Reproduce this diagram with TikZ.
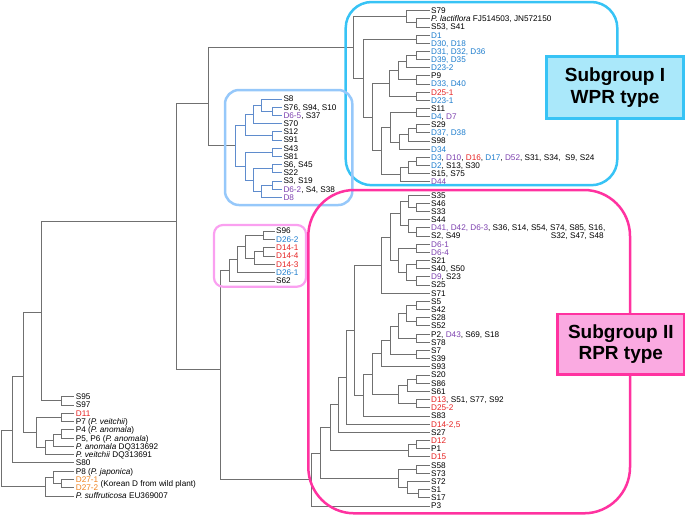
\documentclass[tikz,border=0pt]{standalone}
\usepackage{fontspec}
\setmainfont{Liberation Sans}
\definecolor{edgegray}{RGB}{112,112,112}
\definecolor{edgeblue}{RGB}{95,140,205}
\definecolor{dblue}{RGB}{30,125,205}
\definecolor{dred}{RGB}{230,35,35}
\definecolor{dpurple}{RGB}{125,65,175}
\definecolor{dorange}{RGB}{240,130,30}
\definecolor{cyanline}{RGB}{55,195,245}
\definecolor{cyanfill}{RGB}{170,232,250}
\definecolor{lblue}{RGB}{150,200,250}
\definecolor{pinkline}{RGB}{255,50,160}
\definecolor{pinkfill}{RGB}{250,170,225}
\definecolor{lpink}{RGB}{250,160,240}
\newcommand\colB[1]{\textcolor{dblue}{#1}}
\newcommand\colR[1]{\textcolor{dred}{#1}}
\newcommand\colP[1]{\textcolor{dpurple}{#1}}
\newcommand\colO[1]{\textcolor{dorange}{#1}}
\begin{document}
\begin{tikzpicture}[x=1pt,y=-1pt,
  leaf/.style={anchor=west, inner sep=1.5pt, text height=5.9pt, text depth=0pt, font=\fontsize{8.2}{9}\selectfont},
  edge/.style={draw=edgegray, line width=0.85pt},
  bedge/.style={draw=edgeblue, line width=0.85pt},
  groupbox/.style={line width=2.5pt, rounded corners=#1},
  labelbox/.style={line width=2.6pt, font=\fontsize{19}{21.5}\selectfont\bfseries, align=center}]
\useasboundingbox (0,0) rectangle (685,515);

% ---------- WPR leaves ----------
\node[leaf] (wS79) at (429.5,10.7) {S79};
\node[leaf] (wPl) at (429.5,18.8) {\textit{P. lactiflora} FJ514503, JN572150};
\node[leaf] (wS53) at (429.5,27.0) {S53, S41};
\node[leaf] (wD1) at (429.5,35.1) {\colB{D1}};
\node[leaf] (wD30) at (429.5,43.3) {\colB{D30, D18}};
\node[leaf] (wD31) at (429.5,51.4) {\colB{D31, D32, D36}};
\node[leaf] (wD39) at (429.5,59.6) {\colB{D39, D35}};
\node[leaf] (wD232) at (429.5,67.7) {\colB{D23-2}};
\node[leaf] (wP9) at (429.5,75.8) {P9};
\node[leaf] (wD33) at (429.5,84.0) {\colB{D33, D40}};
\node[leaf] (wD251) at (429.5,92.1) {\colR{D25-1}};
\node[leaf] (wD231) at (429.5,100.3) {\colB{D23-1}};
\node[leaf] (wS11) at (429.5,108.4) {S11};
\node[leaf] (wD4) at (429.5,116.6) {\colB{D4}, \colP{D7}};
\node[leaf] (wS29) at (429.5,124.7) {S29};
\node[leaf] (wD37) at (429.5,132.8) {\colB{D37, D38}};
\node[leaf] (wS98) at (429.5,141.0) {S98};
\node[leaf] (wD34) at (429.5,149.1) {\colB{D34}};
\node[leaf] (wD3) at (429.5,157.3) {\colB{D3}, \colP{D10}, \colR{D16}, \colB{D17}, \colP{D52}, S31, S34, \ S9, S24};
\node[leaf] (wD2) at (429.5,165.4) {\colB{D2}, S13, S30};
\node[leaf] (wS15) at (429.5,173.6) {S15, S75};
\node[leaf] (wD44) at (429.5,181.7) {\colP{D44}};

% ---------- blue cluster leaves ----------
\node[leaf] (bS8) at (281.8,99.0) {S8};
\node[leaf] (bS76) at (281.8,107.2) {S76, S94, S10};
\node[leaf] (bD65) at (281.8,115.4) {\colP{D6-5}, S37};
\node[leaf] (bS70) at (281.8,123.6) {S70};
\node[leaf] (bS12) at (281.8,131.8) {S12};
\node[leaf] (bS91) at (281.8,140.0) {S91};
\node[leaf] (bS43) at (281.8,148.2) {S43};
\node[leaf] (bS81) at (281.8,156.4) {S81};
\node[leaf] (bS6) at (281.8,164.6) {S6, S45};
\node[leaf] (bS22) at (281.8,172.8) {S22};
\node[leaf] (bS3) at (281.8,181.0) {S3, S19};
\node[leaf] (bD62) at (281.8,189.2) {\colP{D6-2}, S4, S38};
\node[leaf] (bD8) at (281.8,197.4) {\colP{D8}};

% ---------- small pink cluster leaves ----------
\node[leaf] (kS96) at (274.5,231.0) {S96};
\node[leaf] (kD262) at (274.5,239.3) {\colB{D26-2}};
\node[leaf] (kD141) at (274.5,247.7) {\colR{D14-1}};
\node[leaf] (kD144) at (274.5,256.0) {\colR{D14-4}};
\node[leaf] (kD143) at (274.5,264.3) {\colR{D14-3}};
\node[leaf] (kD261) at (274.5,272.7) {\colB{D26-1}};
\node[leaf] (kS62) at (274.5,281.0) {S62};

% ---------- RPR leaves ----------
\node[leaf] (rS35) at (429.5,195.6) {S35};
\node[leaf] (rS46) at (429.5,203.6) {S46};
\node[leaf] (rS33) at (429.5,211.7) {S33};
\node[leaf] (rS44) at (429.5,219.8) {S44};
\node[leaf] (rD41) at (429.5,227.9) {\colP{D41, D42, D6-3}, S36, S14, S54, S74, S85, S16,};
\node[leaf] (rS2) at (429.5,236.0) {S2, S49};
\node[leaf, anchor=east] (rcont) at (605.5,236.0) {S32, S47, S48};
\node[leaf] (rD61) at (429.5,244.1) {\colP{D6-1}};
\node[leaf] (rD64) at (429.5,252.3) {\colP{D6-4}};
\node[leaf] (rS21) at (429.5,260.5) {S21};
\node[leaf] (rS40) at (429.5,268.7) {S40, S50};
\node[leaf] (rD9) at (429.5,276.8) {\colP{D9}, S23};
\node[leaf] (rS25) at (429.5,285.0) {S25};
\node[leaf] (rS71) at (429.5,293.2) {S71};
\node[leaf] (rS5) at (429.5,301.4) {S5};
\node[leaf] (rS42) at (429.5,309.6) {S42};
\node[leaf] (rS28) at (429.5,317.8) {S28};
\node[leaf] (rS52) at (429.5,325.9) {S52};
\node[leaf] (rP2) at (429.5,334.1) {P2, \colP{D43}, S69, S18};
\node[leaf] (rS78) at (429.5,342.3) {S78};
\node[leaf] (rS7) at (429.5,350.5) {S7};
\node[leaf] (rS39) at (429.5,358.7) {S39};
\node[leaf] (rS93) at (429.5,366.9) {S93};
\node[leaf] (rS20) at (429.5,375.0) {S20};
\node[leaf] (rS86) at (429.5,383.2) {S86};
\node[leaf] (rS61) at (429.5,391.4) {S61};
\node[leaf] (rD13) at (429.5,399.6) {\colR{D13}, S51, S77, S92};
\node[leaf] (rD252) at (429.5,407.8) {\colR{D25-2}};
\node[leaf] (rS83) at (429.5,416.0) {S83};
\node[leaf] (rD142) at (429.5,424.2) {\colR{D14-2,5}};
\node[leaf] (rS27) at (429.5,432.3) {S27};
\node[leaf] (rD12) at (429.5,440.5) {\colR{D12}};
\node[leaf] (rP1) at (429.5,448.7) {P1};
\node[leaf] (rD15) at (429.5,456.9) {\colR{D15}};
\node[leaf] (rS58) at (429.5,465.1) {S58};
\node[leaf] (rS73) at (429.5,473.3) {S73};
\node[leaf] (rS72) at (429.5,481.4) {S72};
\node[leaf] (rS1) at (429.5,489.6) {S1};
\node[leaf] (rS17) at (429.5,497.8) {S17};
\node[leaf] (rP3) at (429.5,506.0) {P3};

% ---------- outgroup leaves ----------
\node[leaf] (oS95) at (74.2,396.7) {S95};
\node[leaf] (oS97) at (74.2,405.0) {S97};
\node[leaf] (oD11) at (74.2,413.25) {\colR{D11}};
\node[leaf] (oP7) at (74.2,421.5) {P7 (\textit{P. veitchii})};
\node[leaf] (oP4) at (74.2,429.8) {P4 (\textit{P. anomala})};
\node[leaf] (oP5) at (74.2,438.1) {P5, P6 (\textit{P. anomala})};
\node[leaf] (oPa) at (74.2,446.35) {\textit{P. anomala} DQ313692};
\node[leaf] (oPv) at (74.2,454.6) {\textit{P. veitchii} DQ313691};
\node[leaf] (oS80) at (74.2,462.9) {S80};
\node[leaf] (oP8) at (74.2,471.2) {P8 (\textit{P. japonica})};
\node[leaf] (oD271) at (74.2,479.45) {\colO{D27-1}};
\node[leaf] (oD272) at (74.2,487.7) {\colO{D27-2}};
\node[leaf] (okor) at (99.0,483.6) {(Korean D from wild plant)};
\node[leaf] (oPs) at (74.2,496.0) {\textit{P. suffruticosa} EU369007};

% ---------- internal nodes ----------
\coordinate (w1) at (416,22.9);
\coordinate (w2) at (406.7,16.8);
\coordinate (w3) at (416,39.2);
\coordinate (w4) at (416,55.5);
\coordinate (w5) at (406.7,61.6);
\coordinate (w6) at (416,79.9);
\coordinate (w7) at (398.3,70.75);
\coordinate (w8) at (416,96.2);
\coordinate (w9) at (389.3,83.5);
\coordinate (w10) at (416,112.5);
\coordinate (w11) at (416,128.8);
\coordinate (w12) at (408.3,134.9);
\coordinate (w13) at (399.3,142.0);
\coordinate (w14) at (390,127.25);
\coordinate (w15) at (416.7,161.3);
\coordinate (w16) at (408.3,167.5);
\coordinate (w17) at (400,174.6);
\coordinate (w18) at (381.7,150.9);
\coordinate (w19) at (372.7,117.2);
\coordinate (w20) at (363.3,78.2);
\coordinate (wR) at (353.3,47.5);

\coordinate (b1) at (272,111.3);
\coordinate (b2) at (261.7,105.15);
\coordinate (b3) at (253.3,114.4);
\coordinate (b4) at (272,135.9);
\coordinate (b5) at (245,125.15);
\coordinate (b6) at (272,152.3);
\coordinate (b7) at (272,168.7);
\coordinate (b8) at (272,185.1);
\coordinate (b9) at (261.7,191.25);
\coordinate (b10) at (253.3,180.0);
\coordinate (b11) at (245,166.15);
\coordinate (bR) at (235,145.65);

\coordinate (k1) at (263.3,235.15);
\coordinate (k2) at (263.3,251.85);
\coordinate (k3) at (254.3,258.1);
\coordinate (k4) at (245.7,246.6);
\coordinate (k5) at (237.3,259.65);
\coordinate (kR) at (229.3,270.3);

\coordinate (r1) at (416.7,207.65);
\coordinate (r2) at (408.3,201.6);
\coordinate (r3) at (416.7,231.95);
\coordinate (r4) at (408.3,225.9);
\coordinate (r5) at (400,213.75);
\coordinate (r6) at (416.7,248.2);
\coordinate (r7) at (416.7,264.6);
\coordinate (r8) at (416.7,280.9);
\coordinate (r9) at (406.7,272.75);
\coordinate (r10) at (398.3,260.5);
\coordinate (r11) at (390,237.1);
\coordinate (r12) at (381,265.15);
\coordinate (r13) at (416.7,305.5);
\coordinate (r14) at (416.7,321.85);
\coordinate (r15) at (406.7,313.7);
\coordinate (r16) at (416.7,338.2);
\coordinate (r17) at (398.3,325.95);
\coordinate (r18) at (416.7,354.6);
\coordinate (r19) at (390,340.3);
\coordinate (r20) at (381.7,353.6);
\coordinate (r21) at (416.7,379.1);
\coordinate (r22) at (407.3,385.3);
\coordinate (r23) at (416.7,403.7);
\coordinate (r24) at (398.3,394.5);
\coordinate (r25) at (372.7,374.05);
\coordinate (r26) at (363.3,395.0);
\coordinate (r27) at (354.3,330.05);
\coordinate (r28) at (346.7,377.1);
\coordinate (r29) at (338.3,404.7);
\coordinate (r30) at (416.7,444.6);
\coordinate (r31) at (408.3,450.75);
\coordinate (r32) at (330,427.7);
\coordinate (r33) at (416.7,469.15);
\coordinate (r34) at (418.3,493.7);
\coordinate (r35) at (407.3,487.6);
\coordinate (r36) at (398.3,478.4);
\coordinate (r37) at (320,453.05);
\coordinate (rR) at (311.7,479.5);

\coordinate (o1) at (61.7,400.85);
\coordinate (o2) at (61.7,417.4);
\coordinate (o3) at (61.7,433.95);
\coordinate (o4) at (53.3,440.15);
\coordinate (o5) at (45,447.4);
\coordinate (o6) at (61.7,483.6);
\coordinate (o7) at (53.3,477.4);
\coordinate (N3) at (36,432.4);
\coordinate (N2) at (41.7,312);
\coordinate (N1) at (23.3,376);
\coordinate (Rtop) at (12.7,430);
\coordinate (Rbot) at (45,486.7);
\coordinate (R0) at (1,458);
\coordinate (Ing) at (176,221);
\coordinate (N4) at (208,103);
\coordinate (Pp) at (220.7,369);

% ---------- edges: WPR ----------
\draw[edge] (w1) |- (wPl.west) (w1) |- (wS53.west)
  (w2) |- (wS79.west) (w2) |- (w1)
  (w3) |- (wD1.west) (w3) |- (wD30.west)
  (w4) |- (wD31.west) (w4) |- (wD39.west)
  (w5) |- (w4) (w5) |- (wD232.west)
  (w6) |- (wP9.west) (w6) |- (wD33.west)
  (w7) |- (w5) (w7) |- (w6)
  (w8) |- (wD251.west) (w8) |- (wD231.west)
  (w9) |- (w7) (w9) |- (w8)
  (w10) |- (wS11.west) (w10) |- (wD4.west)
  (w11) |- (wS29.west) (w11) |- (wD37.west)
  (w12) |- (w11) (w12) |- (wS98.west)
  (w13) |- (w12) (w13) |- (wD34.west)
  (w14) |- (w10) (w14) |- (w13)
  (w15) |- (wD3.west) (w15) |- (wD2.west)
  (w16) |- (w15) (w16) |- (wS15.west)
  (w17) |- (w16) (w17) |- (wD44.west)
  (w18) |- (w14) (w18) |- (w17)
  (w19) |- (w9) (w19) |- (w18)
  (w20) |- (w3) (w20) |- (w19)
  (wR) |- (w2) (wR) |- (w20);

% ---------- edges: blue cluster ----------
\draw[bedge] (b1) |- (bS76.west) (b1) |- (bD65.west)
  (b2) |- (bS8.west) (b2) |- (b1)
  (b3) |- (b2) (b3) |- (bS70.west)
  (b4) |- (bS12.west) (b4) |- (bS91.west)
  (b5) |- (b3) (b5) |- (b4)
  (b6) |- (bS43.west) (b6) |- (bS81.west)
  (b7) |- (bS6.west) (b7) |- (bS22.west)
  (b8) |- (bS3.west) (b8) |- (bD62.west)
  (b9) |- (b8) (b9) |- (bD8.west)
  (b10) |- (b7) (b10) |- (b9)
  (b11) |- (b6) (b11) |- (b10)
  (bR) |- (b5) (bR) |- (b11);

% ---------- edges: small pink cluster ----------
\draw[edge] (k1) |- (kS96.west) (k1) |- (kD262.west)
  (k2) |- (kD141.west) (k2) |- (kD144.west)
  (k3) |- (k2) (k3) |- (kD143.west)
  (k4) |- (k1) (k4) |- (k3)
  (k5) |- (k4) (k5) |- (kD261.west)
  (kR) |- (k5) (kR) |- (kS62.west);

% ---------- edges: RPR ----------
\draw[edge] (r1) |- (rS46.west) (r1) |- (rS33.west)
  (r2) |- (rS35.west) (r2) |- (r1)
  (r3) |- (rD41.west) (r3) |- (rS2.west)
  (r4) |- (rS44.west) (r4) |- (r3)
  (r5) |- (r2) (r5) |- (r4)
  (r6) |- (rD61.west) (r6) |- (rD64.west)
  (r7) |- (rS21.west) (r7) |- (rS40.west)
  (r8) |- (rD9.west) (r8) |- (rS25.west)
  (r9) |- (r7) (r9) |- (r8)
  (r10) |- (r6) (r10) |- (r9)
  (r11) |- (r5) (r11) |- (r10)
  (r12) |- (r11) (r12) |- (rS71.west)
  (r13) |- (rS5.west) (r13) |- (rS42.west)
  (r14) |- (rS28.west) (r14) |- (rS52.west)
  (r15) |- (r13) (r15) |- (r14)
  (r16) |- (rP2.west) (r16) |- (rS78.west)
  (r17) |- (r15) (r17) |- (r16)
  (r18) |- (rS7.west) (r18) |- (rS39.west)
  (r19) |- (r17) (r19) |- (r18)
  (r20) |- (r19) (r20) |- (rS93.west)
  (r21) |- (rS20.west) (r21) |- (rS86.west)
  (r22) |- (r21) (r22) |- (rS61.west)
  (r23) |- (rD13.west) (r23) |- (rD252.west)
  (r24) |- (r22) (r24) |- (r23)
  (r25) |- (r20) (r25) |- (r24)
  (r26) |- (r25) (r26) |- (rS83.west)
  (r27) |- (r12) (r27) |- (r26)
  (r28) |- (r27) (r28) |- (rD142.west)
  (r29) |- (r28) (r29) |- (rS27.west)
  (r30) |- (rD12.west) (r30) |- (rP1.west)
  (r31) |- (r30) (r31) |- (rD15.west)
  (r32) |- (r29) (r32) |- (r31)
  (r33) |- (rS58.west) (r33) |- (rS73.west)
  (r34) |- (rS1.west) (r34) |- (rS17.west)
  (r35) |- (rS72.west) (r35) |- (r34)
  (r36) |- (r33) (r36) |- (r35)
  (r37) |- (r32) (r37) |- (r36)
  (rR) |- (r37) (rR) |- (rP3.west);

% ---------- edges: backbone and outgroups ----------
\draw[edge] (N4) |- (wR) (N4) |- (bR)
  (Pp) |- (kR) (Pp) |- (rR)
  (Ing) |- (N4) (Ing) |- (Pp)
  (o1) |- (oS95.west) (o1) |- (oS97.west)
  (N2) |- (Ing) (N2) |- (o1)
  (o2) |- (oD11.west) (o2) |- (oP7.west)
  (o3) |- (oP4.west) (o3) |- (oP5.west)
  (o4) |- (o3) (o4) |- (oPa.west)
  (o5) |- (o4) (o5) |- (oPv.west)
  (N3) |- (o2) (N3) |- (o5)
  (N1) |- (N2) (N1) |- (N3)
  (Rtop) |- (N1) (Rtop) |- (oS80.west)
  (o6) |- (oD271.west) (o6) |- (oD272.west)
  (o7) |- (oP8.west) (o7) |- (o6)
  (Rbot) |- (o7) (Rbot) |- (oPs.west)
  (R0) |- (Rtop) (R0) |- (Rbot);

% ---------- group boxes ----------
\draw[groupbox=26pt, draw=cyanline] (345.7,2) rectangle (617.3,185.2);
\draw[groupbox=14pt, draw=lblue] (225,90) rectangle (352.3,205);
\draw[groupbox=9pt, draw=lpink, line width=2.2pt] (214,225) rectangle (306,286.7);
\draw[groupbox=46pt, draw=pinkline] (308.3,190) rectangle (630,513.3);

% ---------- group labels ----------
\node[labelbox, draw=cyanline, fill=cyanfill, minimum width=136.6pt, minimum height=61.6pt, inner sep=0pt] (wprlab) at (615,87.5) {Subgroup I\\WPR type};
\node[labelbox, draw=pinkline, fill=pinkfill, minimum width=127pt, minimum height=60.3pt, inner sep=0pt] (rprlab) at (620.8,344.2) {Subgroup II\\RPR type};
\end{tikzpicture}
\end{document}
